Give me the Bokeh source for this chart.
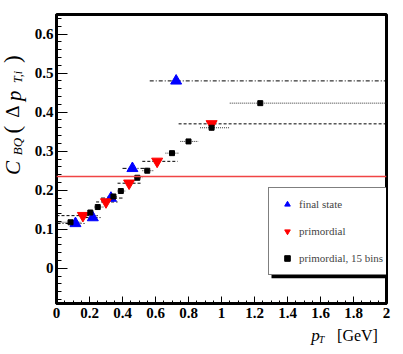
import math
from bokeh.plotting import figure
from bokeh.layouts import row, column
from bokeh.models import (Span, Legend, LegendItem, FixedTicker,
                          CustomJSTickFormatter, BoxAnnotation)
from bokeh.core.properties import value
from bokeh.embed import file_html
from bokeh.resources import INLINE

# ---- data ----
final_pt = [0.115, 0.22, 0.33, 0.46, 0.725]
final_c = [0.115, 0.13, 0.18, 0.256, 0.48]
final_lo = [0.0, 0.17, 0.27, 0.40, 0.565]
final_hi = [0.17, 0.27, 0.40, 0.56, 2.0]

prim_pt = [0.16, 0.30, 0.44, 0.61, 0.94]
prim_c = [0.135, 0.17, 0.218, 0.274, 0.37]
prim_lo = [0.0, 0.24, 0.37, 0.52, 0.74]
prim_hi = [0.25, 0.37, 0.52, 0.735, 2.0]

bins_pt = [0.085, 0.205, 0.25, 0.345, 0.39, 0.49, 0.55, 0.70, 0.80, 0.94, 1.235]
bins_c = [0.118, 0.143, 0.157, 0.184, 0.198, 0.232, 0.25, 0.295, 0.325, 0.36, 0.423]
bins_lo = [0.0, 0.17, 0.23, 0.31, 0.37, 0.47, 0.52, 0.66, 0.75, 0.87, 1.05]
bins_hi = [0.15, 0.23, 0.29, 0.37, 0.42, 0.52, 0.59, 0.74, 0.86, 1.05, 2.0]

reference_level = 0.235

x_ticks = [0, 0.2, 0.4, 0.6, 0.8, 1.0, 1.2, 1.4, 1.6, 1.8, 2.0]
y_ticks = [0, 0.1, 0.2, 0.3, 0.4, 0.5, 0.6]

serif = "Liberation Serif"

# ---- layout sizes ----
TOTAL_W, TOTAL_H = 395, 346
LEFT_W = 30
MAIN_H = 324
BOTTOM_H = TOTAL_H - MAIN_H

# ---- main figure ----
p = figure(width=TOTAL_W - LEFT_W, height=MAIN_H, x_range=(0, 2), y_range=(-0.09, 0.65),
           output_backend="svg", toolbar_location=None,
           min_border_left=56 - LEFT_W, min_border_right=TOTAL_W - 386,
           min_border_top=14, min_border_bottom=MAIN_H - 303)
p.grid.visible = False
p.outline_line_color = "black"
p.outline_line_width = 3

fmt = CustomJSTickFormatter(code="""
    let s = tick.toFixed(1);
    if (s.endsWith('.0')) s = s.slice(0, -2);
    return s;
""")

xminor = [i * 0.05 for i in range(41)]
yminor = [-0.08 + i * 0.02 for i in range(37)]
p.xaxis.ticker = FixedTicker(ticks=x_ticks, minor_ticks=xminor)
p.yaxis.ticker = FixedTicker(ticks=y_ticks, minor_ticks=yminor)
for ax in (p.xaxis, p.yaxis):
    ax.formatter = fmt
    ax.axis_line_width = 3
    ax.axis_line_color = "black"
    ax.major_tick_out = 0
    ax.minor_tick_out = 0
    ax.major_label_text_font = "Liberation Sans Narrow"
    ax.major_label_text_font_style = "bold"
    ax.major_label_text_font_size = "15px"
    ax.major_label_text_color = "black"
    ax.major_tick_line_width = 1
    ax.minor_tick_line_width = 1
p.xaxis.major_tick_in = 7
p.xaxis.minor_tick_in = 3
p.yaxis.major_tick_in = 11
p.yaxis.minor_tick_in = 5
p.xaxis.major_label_standoff = 4
p.yaxis.major_label_standoff = 3

# reference line
p.add_layout(Span(location=reference_level, dimension="width",
                  line_color="#f04444", line_width=1.5))

# horizontal bin-width bars
p.segment(x0=final_lo, x1=final_hi, y0=final_c, y1=final_c,
          line_color="black", line_width=1, line_dash="4 2 1 2")
p.segment(x0=prim_lo, x1=prim_hi, y0=prim_c, y1=prim_c,
          line_color="black", line_width=1, line_dash="3 2")
p.segment(x0=bins_lo, x1=bins_hi, y0=bins_c, y1=bins_c,
          line_color="#333333", line_width=1, line_dash="1 1")

r_final = p.scatter(final_pt, final_c, marker="triangle", size=11,
                    fill_color="#0000ff", line_color="#0000ff")
r_prim = p.scatter(prim_pt, prim_c, marker="inverted_triangle", size=11,
                   fill_color="#ff0000", line_color="#ff0000")
r_bins = p.scatter(bins_pt, bins_c, marker="square", size=5,
                   fill_color="black", line_color="black")

# legend shadow + legend
p.add_layout(BoxAnnotation(left=1.303, right=1.994, top=0.197, bottom=-0.0256,
                           fill_color="black", fill_alpha=1, line_color=None))
legend = Legend(items=[LegendItem(label="final state", renderers=[r_final]),
                       LegendItem(label="primordial", renderers=[r_prim]),
                       LegendItem(label="primordial, 15 bins", renderers=[r_bins])],
                location=(212, 28))
legend.border_line_color = "black"
legend.border_line_width = 1
legend.background_fill_color = "white"
legend.background_fill_alpha = 1
legend.label_text_font = serif
legend.label_text_font_size = "11px"
legend.glyph_width = 18
legend.glyph_height = 14
legend.label_height = 14
legend.spacing = 13
legend.padding = 9
legend.margin = 0
legend.label_standoff = 3
p.add_layout(legend)


def strip(w, h):
    f = figure(width=w, height=h, x_range=(0, w), y_range=(0, h),
               output_backend="svg", toolbar_location=None,
               x_axis_location=None, y_axis_location=None, min_border=0)
    f.outline_line_color = None
    for g in f.grid:
        g.visible = False
    return f


# ---- left strip: y-axis title  C_BQ (Δp_T,i) ----
left = strip(LEFT_W, MAIN_H)
ypieces = [("C", 12, 172, "21px", "italic"),
           ("BQ", 17, 148, "13px", "italic"),
           ("(", 12, 129, "23px", "normal"),
           ("Δ", 12, 109, "19px", "normal"),
           ("p", 13, 91, "21px", "italic"),
           ("T,i", 17, 70, "12px", "italic"),
           (")", 12, 50, "23px", "normal")]
for t, xx, yy, fs, st in ypieces:
    left.text(x=[xx], y=[MAIN_H - yy], text=[t], angle=math.pi / 2,
              text_align="center", text_baseline="middle",
              text_font=value(serif), text_font_size=fs, text_font_style=st,
              text_color="black")

# ---- bottom strip: x-axis title  p_T [GeV] ----
bottom = strip(TOTAL_W, BOTTOM_H)
xpieces = [("p", 315, 335, "17px", "italic"),
           ("T", 321, 339, "10px", "italic"),
           ("[GeV]", 357, 335, "16px", "normal")]
for t, xx, yy, fs, st in xpieces:
    bottom.text(x=[xx], y=[TOTAL_H - yy], text=[t],
                text_align="center", text_baseline="middle",
                text_font=value(serif), text_font_size=fs, text_font_style=st,
                text_color="black")

layout = column(row(left, p), bottom)
open("out.html", "w").write(file_html(layout, INLINE))
